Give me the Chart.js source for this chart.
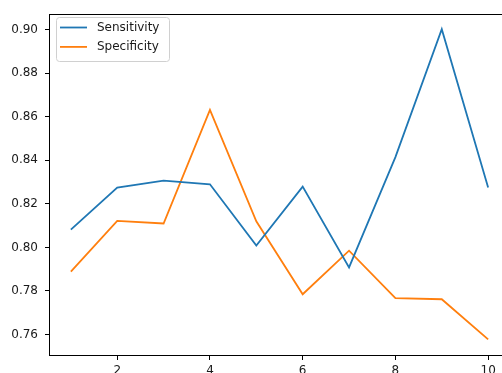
<!DOCTYPE html>
<html>
<head>
<meta charset="utf-8">
<script src="https://cdn.jsdelivr.net/npm/chart.js@4.4.0/dist/chart.umd.min.js"></script>
<style>
  html, body { margin: 0; padding: 0; background: #fff; overflow: hidden; }
  #wrap { width: 502px; height: 373px; overflow: hidden; }
  canvas { display: block; }
</style>
</head>
<body>
<div id="wrap"><canvas id="grafico" width="512" height="373"></canvas></div>
<script>
// Dados
const rodadas = [1, 2, 3, 4, 5, 6, 7, 8, 9, 10];
const sensibilidade = [0.8082, 0.8275, 0.8307, 0.8290, 0.8009, 0.8279, 0.7908, 0.8415, 0.9002, 0.8275];
const especificidade = [0.7889, 0.8122, 0.8110, 0.8632, 0.8120, 0.7785, 0.7985, 0.7767, 0.7762, 0.7578];
const ticksX = [2, 4, 6, 8, 10];
const ticksY = [0.76, 0.78, 0.80, 0.82, 0.84, 0.86, 0.88, 0.90];

const FONTE = { family: 'DejaVu Sans', size: 12 };

// Moldura (spines) do eixo
const moldura = {
  id: 'moldura',
  afterDraw(chart) {
    const { ctx, chartArea: a } = chart;
    ctx.save();
    ctx.strokeStyle = '#000';
    ctx.lineWidth = 1;
    ctx.strokeRect(Math.round(a.left) - 0.5, Math.round(a.top) + 0.5,
      Math.round(a.right - a.left), Math.round(a.bottom - a.top));
    ctx.restore();
  }
};

// Legenda no estilo matplotlib, canto superior esquerdo
const legenda = {
  id: 'legenda',
  afterDraw(chart) {
    const { ctx } = chart;
    const x = 56.5, y = 17.5, w = 113, h = 44;
    ctx.save();
    ctx.fillStyle = 'rgba(255,255,255,0.8)';
    ctx.strokeStyle = '#d0d0d0';
    ctx.lineWidth = 1;
    ctx.beginPath();
    ctx.roundRect(x, y, w, h, 3);
    ctx.fill();
    ctx.stroke();
    ctx.font = '12px "DejaVu Sans"';
    ctx.textBaseline = 'middle';
    chart.data.datasets.forEach((ds, i) => {
      const ly = 27.5 + i * 19.4;
      ctx.strokeStyle = ds.borderColor;
      ctx.lineWidth = 1.8;
      ctx.beginPath();
      ctx.moveTo(60, ly);
      ctx.lineTo(87, ly);
      ctx.stroke();
      ctx.fillStyle = '#1a1a1a';
      ctx.fillText(ds.label, 97, ly);
    });
    ctx.restore();
  }
};

new Chart(document.getElementById('grafico'), {
  type: 'line',
  data: {
    datasets: [
      {
        label: 'Sensitivity',
        data: rodadas.map((x, i) => ({ x, y: sensibilidade[i] })),
        borderColor: '#1f77b4',
        borderWidth: 1.8,
        pointRadius: 0,
        fill: false,
        tension: 0
      },
      {
        label: 'Specificity',
        data: rodadas.map((x, i) => ({ x, y: especificidade[i] })),
        borderColor: '#ff7f0e',
        borderWidth: 1.8,
        pointRadius: 0,
        fill: false,
        tension: 0
      }
    ]
  },
  options: {
    responsive: false,
    animation: false,
    layout: { padding: { top: 11, right: 3, left: 0, bottom: 0 } },
    plugins: {
      legend: { display: false },
      tooltip: { enabled: false }
    },
    scales: {
      x: {
        type: 'linear',
        min: 0.55,
        max: 10.45,
        afterBuildTicks: s => { s.ticks = ticksX.map(v => ({ value: v })); },
        afterFit: s => { s.height = 18; },
        border: { display: false },
        grid: { drawOnChartArea: false, drawTicks: true, tickLength: 5, color: '#000' },
        ticks: { font: FONTE, color: '#1a1a1a', padding: 4, maxRotation: 0, autoSkip: false }
      },
      y: {
        min: 0.7506,
        max: 0.9071,
        afterBuildTicks: s => { s.ticks = ticksY.map(v => ({ value: v })); },
        afterFit: s => { s.width = 50; },
        border: { display: false },
        grid: { drawOnChartArea: false, drawTicks: true, tickLength: 5, color: '#000' },
        ticks: { font: FONTE, color: '#1a1a1a', padding: 7, callback: v => v.toFixed(2) }
      }
    }
  },
  plugins: [moldura, legenda]
});
</script>
</body>
</html>
